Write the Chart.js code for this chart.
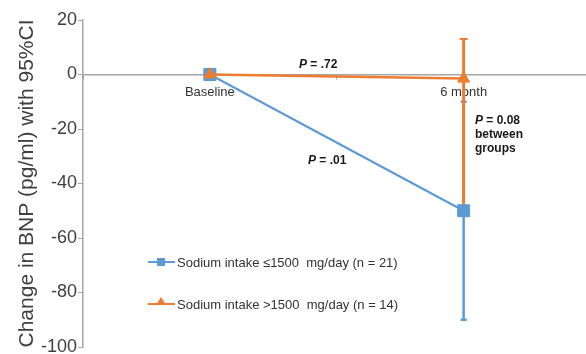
<!DOCTYPE html>
<html><head><meta charset="utf-8">
<script src="https://cdn.jsdelivr.net/npm/chart.js@4/dist/chart.umd.min.js"></script>
<style>
html,body{margin:0;padding:0;background:#fff;overflow:hidden;width:586px;height:354px;}
#wrap{position:relative;width:600px;height:359px;}
canvas{position:absolute;left:0;top:0;}
.t{position:absolute;font-family:"Liberation Sans",Arial,sans-serif;color:#262626;white-space:nowrap;transform:translateY(-50%);}
.lg{font-size:13px;color:#333;}
.an{font-size:12px;font-weight:bold;color:#1a1a1a;}
.sw{position:absolute;}
</style></head><body>
<div id="wrap">
<canvas id="c" width="600" height="359"></canvas>
<div class="sw" style="left:148px;top:261px;width:27px;height:2px;background:#5B9BD5"></div>
<div class="sw" style="left:157px;top:258px;width:8px;height:8px;background:#5B9BD5"></div>
<div class="t lg" id="lg1" style="left:177px;top:262px"></div>
<div class="sw" style="left:148px;top:303px;width:27px;height:2px;background:#ED7D31"></div>
<div class="sw" style="left:156px;top:297px;width:0;height:0;border-left:5px solid transparent;border-right:5px solid transparent;border-bottom:8px solid #ED7D31"></div>
<div class="t lg" id="lg2" style="left:177px;top:304px"></div>
<div class="t an" style="left:299px;top:64px"><i>P</i> = .72</div>
<div class="t an" style="left:308px;top:160px"><i>P</i> = .01</div>
<div class="t an" style="left:475px;line-height:14px;transform:none;top:113px"><i>P</i> = 0.08<br>between<br>groups</div>
</div>
<script>
const categories = ['Baseline', '6 month'];
const lowSodium = [0, -50];
const highSodium = [0, -1.5];
const lowSodiumCI = [-90, -10];
const highSodiumCI = [-49, 13];
const yTicks = [20, 0, -20, -40, -60, -80, -100];
const seriesNames = ['Sodium intake \u22641500\u00a0 mg/day (n = 21)', 'Sodium intake >1500\u00a0 mg/day (n = 14)'];
const yTitle = 'Change in BNP (pg/ml) with 95%CI';

document.getElementById('lg1').textContent = seriesNames[0];
document.getElementById('lg2').textContent = seriesNames[1];

const BLUE = '#5B9BD5', ORANGE = '#ED7D31', AX = '#a6a6a6';
const ff = '"Liberation Sans", Arial, sans-serif';

new Chart(document.getElementById('c'), {
  type: 'line',
  data: {
    labels: categories,
    datasets: [
      { label: seriesNames[1], data: highSodium, borderColor: ORANGE, backgroundColor: ORANGE,
        borderWidth: 2.5, pointStyle: 'triangle', pointRadius: 7, pointBorderWidth: 1, order: 0 },
      { label: seriesNames[0], data: lowSodium, borderColor: BLUE, backgroundColor: BLUE,
        borderWidth: 2, pointStyle: 'rect', pointRadius: 8.5, pointBorderWidth: 1, order: 1 },
      { label: 'ci-high', data: highSodiumCI.map(v => ({x: categories[1], y: v})), borderColor: ORANGE,
        pointBorderColor: ORANGE, borderWidth: 3, pointStyle: 'line', pointRadius: 4, pointBorderWidth: 2, order: 2 },
      { label: 'ci-low', data: lowSodiumCI.map(v => ({x: categories[1], y: v})), borderColor: BLUE,
        pointBorderColor: BLUE, borderWidth: 2.5, pointStyle: 'line', pointRadius: 3, pointBorderWidth: 2.5, order: 3 }
    ]
  },
  options: {
    responsive: false, animation: false, events: [],
    layout: { padding: { top: 20, bottom: 12, left: 0, right: 0 } },
    plugins: { legend: { display: false }, tooltip: { enabled: false } },
    scales: {
      x: {
        type: 'category', offset: true, position: { y: 0 },
        grid: { display: true, offset: true, drawOnChartArea: false, tickLength: 4, color: AX },
        border: { color: AX, width: 1.5 },
        ticks: { font: { family: ff, size: 13 }, color: '#333', padding: 6 }
      },
      y: {
        min: -100, max: 20,
        afterBuildTicks: s => { s.ticks = yTicks.map(v => ({ value: v })); },
        afterFit: s => { s.width = 83; },
        grid: { display: true, drawOnChartArea: false, tickLength: 5, color: AX },
        border: { color: AX, width: 1.5 },
        ticks: { font: { family: ff, size: 18 }, color: '#404040', padding: 1 },
        title: { display: true, text: yTitle, font: { family: ff, size: 21, lineHeight: 1 }, color: '#404040', padding: { top: 17, bottom: 0 } }
      }
    }
  }
});
</script>
</body></html>
